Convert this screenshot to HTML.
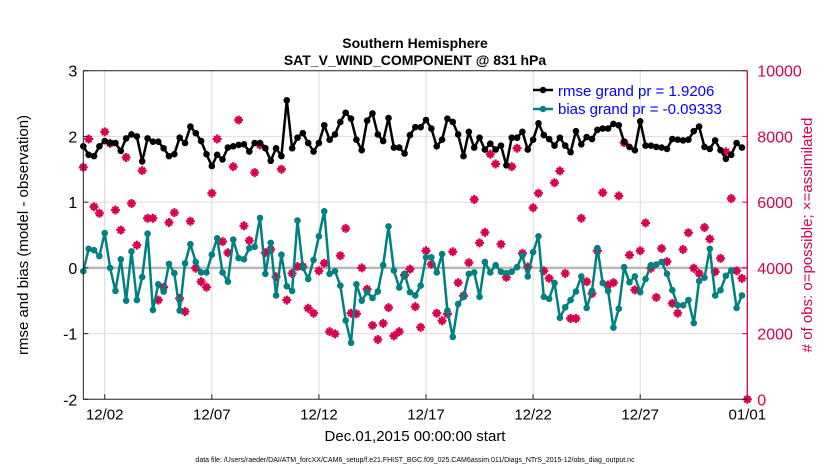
<!DOCTYPE html>
<html><head><meta charset="utf-8"><style>
body{margin:0;background:#fff;width:830px;height:470px;overflow:hidden;font-family:"Liberation Sans",sans-serif}
svg text{font-family:"Liberation Sans",sans-serif}
</style></head><body>
<svg id="chart" width="830" height="470" viewBox="0 0 830 470" xmlns="http://www.w3.org/2000/svg">
<g id="grid"></g>
<g id="marks"></g>
<g id="axes"></g>
<text x="415" y="48" text-anchor="middle" font-size="14" font-weight="bold">Southern Hemisphere</text>
<text x="415" y="65" text-anchor="middle" font-size="14" font-weight="bold">SAT_V_WIND_COMPONENT @ 831 hPa</text>
<text transform="translate(28,235) rotate(-90)" text-anchor="middle" font-size="15">rmse and bias (model - observation)</text>
<text transform="translate(812,235) rotate(-90)" text-anchor="middle" font-size="15" fill="#d6004f"># of obs: o=possible; ×=assimilated</text>
<text x="415" y="441" text-anchor="middle" font-size="15">Dec.01,2015 00:00:00 start</text>
<text x="415" y="462" text-anchor="middle" font-size="7">data file: /Users/raeder/DAI/ATM_forcXX/CAM6_setup/f.e21.FHIST_BGC.f09_025.CAM6assim.011/Diags_NTrS_2015-12/obs_diag_output.nc</text>
<g>
<line x1="533" y1="90" x2="553" y2="90" stroke="#000" stroke-width="2.5"/><circle cx="543" cy="90" r="3.2" fill="#000"/>
<text x="558" y="96" font-size="15" fill="#0000ff">rmse grand pr = 1.9206</text>
<line x1="533" y1="109" x2="553" y2="109" stroke="#008080" stroke-width="2.5"/><circle cx="543" cy="109" r="3.2" fill="#008080"/>
<text x="558" y="114" font-size="15" fill="#0000ff">bias grand pr = -0.09333</text>
</g>
</svg>
<script>
const rmse=[1.85,1.72,1.70,1.85,1.93,1.90,1.90,1.78,1.97,2.03,2.00,1.62,1.97,1.92,1.92,1.82,1.70,1.73,1.98,1.90,2.15,2.05,1.93,1.73,1.55,1.72,1.65,1.83,1.85,1.87,1.88,1.77,1.90,1.90,1.82,1.63,1.82,1.70,2.55,1.82,1.98,2.05,1.90,1.77,1.90,2.17,1.95,2.03,2.22,2.36,2.27,1.95,1.79,2.24,2.35,2.03,1.93,2.28,1.83,1.83,1.74,2.02,2.14,2.14,2.25,2.12,1.85,1.95,2.27,2.22,2.03,1.70,2.07,1.83,1.98,1.80,1.89,1.80,1.86,1.56,1.98,1.98,2.07,1.80,1.95,2.20,2.02,1.96,1.86,1.98,1.86,1.76,2.08,1.88,1.99,1.96,2.10,2.12,2.12,2.19,2.17,1.92,1.84,1.79,2.23,1.86,1.86,1.84,1.83,1.81,1.96,1.95,1.94,1.95,2.08,2.15,1.84,1.81,1.94,1.79,1.66,1.72,1.90,1.83];
const bias=[-0.05,0.29,0.27,0.18,0.53,0.0,-0.35,0.13,-0.5,0.25,-0.49,-0.14,0.52,-0.64,-0.25,-0.36,0.06,-0.08,-0.65,0.07,0.36,0.09,-0.07,-0.07,0.2,0.45,-0.07,-0.21,0.43,0.15,0.13,0.30,0.32,0.76,-0.09,0.38,-0.42,0.2,-0.28,-0.35,0.72,0.01,-0.17,0.12,0.48,0.86,-0.09,-0.05,-0.27,-0.80,-1.14,-0.25,-0.50,-0.37,-0.46,-0.36,0.04,0.63,-0.04,-0.30,-0.09,-0.37,-0.42,-0.27,0.16,0.16,-0.07,0.21,-0.65,-1.05,-0.55,-0.44,-0.09,-0.07,-0.44,0.09,-0.07,0.04,-0.06,-0.08,-0.06,0.01,0.19,-0.13,0.24,0.48,-0.44,-0.47,-0.23,-0.76,-0.60,-0.49,-0.36,-0.13,-0.61,-0.35,0.30,-0.23,-0.35,-0.91,-0.62,0.01,-0.22,-0.13,-0.37,-0.17,0.04,0.05,0.09,-0.09,-0.34,-0.57,-0.57,-0.49,-0.84,-0.20,-0.15,0.29,-0.42,-0.34,-0.12,-0.04,-0.61,-0.42];
const nobs=[7060,7920,5860,5660,8140,7790,5760,5150,7360,5960,4690,6960,5510,5510,3020,3410,5380,5680,3070,2670,5420,3990,3580,3410,6270,7920,4800,4460,7080,8500,5280,4830,6900,7740,4460,4560,3730,7000,3020,3830,4040,4040,2770,2620,3910,4140,2060,1990,4370,5200,2620,2600,4000,3350,2250,1820,2310,2790,1930,2060,3780,3960,2820,2190,4520,4110,2620,2390,2600,4490,3550,3150,4160,6080,4760,5080,7460,7160,4720,3710,7080,7640,4440,4030,5830,6270,3910,3680,6590,6950,3830,2460,2460,5510,3580,3220,4520,6290,3480,3550,6190,7810,4390,3330,4520,5370,3990,3100,4590,4190,2920,2620,4560,5070,3990,3830,5230,4880,3880,4290,7530,6110,3910,3680,0];
const xTickLabels=["12/02","12/07","12/12","12/17","12/22","12/27","01/01"];
const xTickDays=[1,6,11,16,21,26,31];
const yTicks=[-2,-1,0,1,2,3];
const y2Ticks=[0,2000,4000,6000,8000,10000];
const stepDays=0.25;
const NS="http://www.w3.org/2000/svg";
const X0=83.3,X1=747.3,Y0=70.7,Y1=399.3;
const xs=d=>X0+(X1-X0)*d/31;
const ys=v=>Y1-(Y1-Y0)*(v+2)/5;
const ys2=n=>Y1-(Y1-Y0)*n/10000;
function mk(tag,attrs,parent){const e=document.createElementNS(NS,tag);for(const k in attrs)e.setAttribute(k,attrs[k]);parent.appendChild(e);return e;}
const grid=document.getElementById('grid'),marks=document.getElementById('marks'),axes=document.getElementById('axes');
xTickDays.forEach((d,i)=>{const l=mk('line',{x1:xs(d),x2:xs(d),y1:Y0,y2:Y1,stroke:'#d8d8d8','stroke-width':1},grid);


const t=mk('text',{x:xs(d),y:Y1+20,'text-anchor':'middle','font-size':15},axes);t.textContent=xTickLabels[i];


mk('line',{x1:xs(d),x2:xs(d),y1:Y1,y2:Y1-5,stroke:'#222'},axes);});
y2Ticks.forEach(n=>{if(n>0&&n<10000){const l=mk('line',{x1:X0,x2:X1,y1:ys2(n),y2:ys2(n),stroke:'#f2d3de','stroke-width':1},grid);

}
const t=mk('text',{x:X1+10,y:ys2(n)+6,'font-size':16,fill:'#d6004f'},axes);t.textContent=n;


mk('line',{x1:X1,x2:X1-5,y1:ys2(n),y2:ys2(n),stroke:'#d6004f'},axes);});
const zl=mk('line',{x1:X0,x2:X1,y1:ys(0),y2:ys(0),stroke:'#b8b8b8','stroke-width':2.5},grid);


yTicks.forEach(v=>{const t=mk('text',{x:X0-6,y:ys(v)+6,'text-anchor':'end','font-size':16},axes);t.textContent=v;


mk('line',{x1:X0,x2:X0+5,y1:ys(v),y2:ys(v),stroke:'#222'},axes);});
mk('line',{x1:X0,x2:X1,y1:Y0,y2:Y0,stroke:'#222'},axes);
mk('line',{x1:X0,x2:X1,y1:Y1,y2:Y1,stroke:'#222'},axes);
mk('line',{x1:X0,x2:X0,y1:Y0,y2:Y1,stroke:'#222'},axes);
mk('line',{x1:X1,x2:X1,y1:Y0,y2:Y1,stroke:'#d6004f','stroke-width':1.3},axes);
// obs markers
nobs.forEach((n,i)=>{const cx=xs(i*stepDays),cy=ys2(n);const g=mk('g',{},marks);


mk('path',{d:`M${cx-4.5} ${cy}H${cx+4.5}M${cx} ${cy-4.5}V${cy+4.5}M${cx-3} ${cy-3}L${cx+3} ${cy+3}M${cx-3} ${cy+3}L${cx+3} ${cy-3}`,stroke:'#d6004f','stroke-width':2.2},g);
mk('circle',{cx:cx,cy:cy,r:2.6,fill:'#d6004f'},g);});
function series(arr,color,name){const pts=arr.map((v,i)=>xs(i*stepDays).toFixed(1)+','+ys(v).toFixed(1)).join(' ');
const p=mk('polyline',{points:pts,fill:'none',stroke:color,'stroke-width':2.5,'stroke-linejoin':'round'},marks);


arr.forEach((v,i)=>{const c=mk('circle',{cx:xs(i*stepDays),cy:ys(v),r:3.3,fill:color},marks);

});}
series(bias,'#008080','bias');
series(rmse,'#000000','rmse');
</script>
</body></html>
